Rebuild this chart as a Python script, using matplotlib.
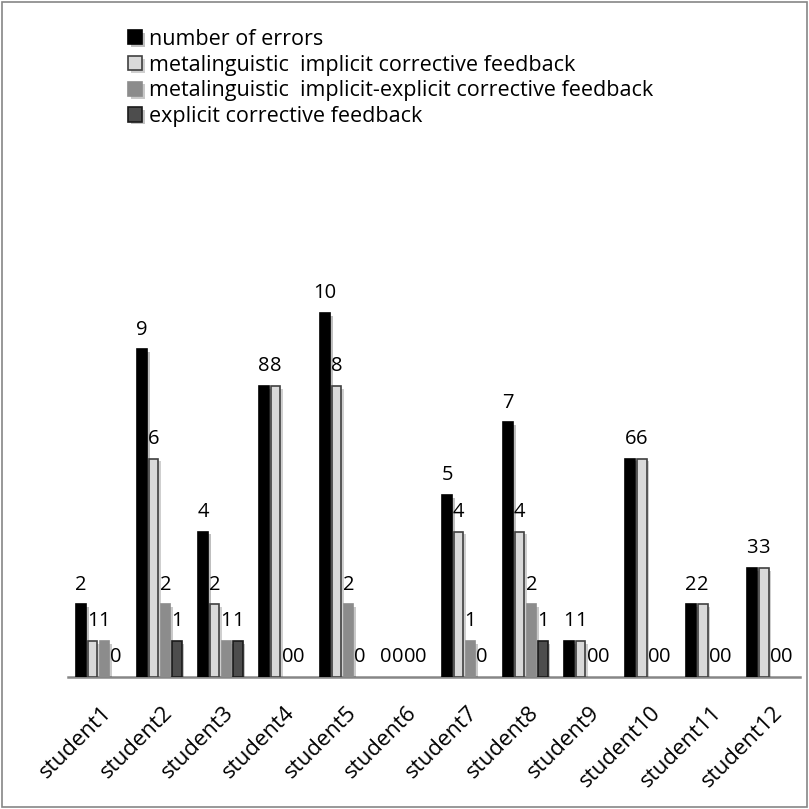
import numpy as np
import matplotlib
matplotlib.use('Agg')
import matplotlib.pyplot as plt
import matplotlib.patheffects as pe
from matplotlib.patches import Rectangle, Patch

plt.rcParams['font.family'] = ['Open Sans', 'DejaVu Sans']

# datos
estudiantes = ['student1', 'student2', 'student3', 'student4', 'student5', 'student6',
               'student7', 'student8', 'student9', 'student10', 'student11', 'student12']
errores = [2, 9, 4, 8, 10, 0, 5, 7, 1, 6, 2, 3]
implicito = [1, 6, 2, 8, 8, 0, 4, 4, 1, 6, 2, 3]
implicito_explicito = [1, 2, 1, 0, 2, 0, 1, 2, 0, 0, 0, 0]
explicito = [0, 1, 1, 0, 0, 0, 0, 1, 0, 0, 0, 0]

series = [
    ('number of errors', errores, '#000000', '#000000'),
    ('metalinguistic  implicit corrective feedback', implicito, '#d9d9d9', '#404040'),
    ('metalinguistic  implicit-explicit corrective feedback', implicito_explicito, '#8c8c8c', '#8c8c8c'),
    ('explicit corrective feedback', explicito, '#4d4d4d', '#1a1a1a'),
]

fig = plt.figure(figsize=(8.09, 8.09), dpi=100)
ax = fig.add_axes([0.084, 0.163, 0.905, 0.765])

x = np.arange(len(estudiantes))
paso = 0.19
ancho = 0.155
sombra = [pe.SimplePatchShadow(offset=(2, -2), alpha=0.25), pe.Normal()]

manejadores = []
for i, (nombre, valores, color, borde) in enumerate(series):
    pos = x + (i - 1.5) * paso
    barras = ax.bar(pos, valores, width=ancho, color=color, edgecolor=borde,
                    linewidth=1.2, zorder=3)
    for b, v in zip(barras, valores):
        if v == 0:
            b.set_visible(False)
        else:
            b.set_path_effects(sombra)
    for px, v in zip(pos, valores):
        ax.annotate(str(v), (px, v), xytext=(0, 7), textcoords='offset points',
                    ha='center', va='bottom', fontsize=14.5, color='#000000')
    p = Patch(facecolor=color, edgecolor=borde, linewidth=1.2, label=nombre)
    p.set_path_effects(sombra)
    manejadores.append(p)

ax.set_xlim(-0.5, len(estudiantes) - 0.5)
ax.set_ylim(0, 17)
ax.set_yticks([])
for lado in ['top', 'right', 'left']:
    ax.spines[lado].set_visible(False)
ax.spines['bottom'].set_color('#868686')
ax.spines['bottom'].set_linewidth(1.8)
ax.set_xticks(x + 0.05)
ax.set_xticklabels(estudiantes, rotation=45, ha='right', rotation_mode='anchor',
                   fontsize=16)
ax.tick_params(axis='x', length=0, pad=18)

fig.legend(handles=manejadores, loc='upper left', bbox_to_anchor=(0.148, 0.975),
           frameon=False, fontsize=15.5, handlelength=0.65, handleheight=0.65,
           handletextpad=0.3, labelspacing=0.22, borderaxespad=0)

# marco exterior
fig.patches.append(Rectangle((0.002, 0.002), 0.996, 0.996, transform=fig.transFigure,
                             fill=False, edgecolor='#868686', linewidth=1.2))

fig.savefig('out.png', dpi=100)
